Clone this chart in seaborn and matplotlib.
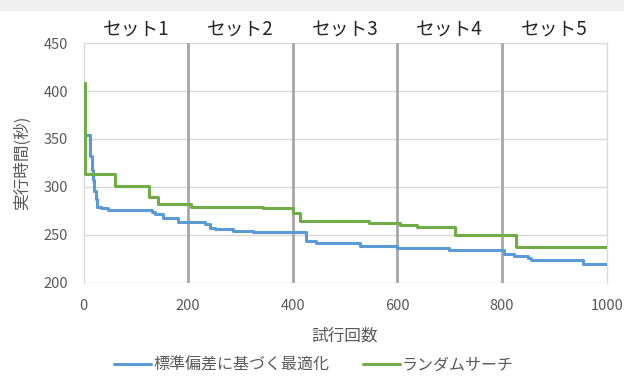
import numpy as np
import pandas as pd
import matplotlib
matplotlib.use("Agg")
import matplotlib.pyplot as plt
import seaborn as sns

# Best run time so far for each optimisation method (step points)
std_trials = [0, 12, 17, 19, 21, 23, 25, 33, 47, 130, 137, 152, 181, 232, 242, 252, 286,
              324, 426, 445, 529, 600, 698, 803, 822, 849, 855, 955, 1000]
std_times = [354, 332, 318, 307, 296, 287, 279, 277.5, 276, 274, 272, 267, 263.6, 261, 257.3,
             255.6, 254.2, 252.5, 243.4, 241, 238.3, 236, 234, 229.5, 227.7, 225.3, 223.5,
             219.8, 219.8]

rand_trials = [0, 3, 61, 125, 142, 205, 344, 401, 414, 545, 605, 637, 710, 826, 1000]
rand_times = [409, 313, 301, 289, 282.5, 278.5, 277.5, 273, 264, 262, 260, 258, 249.7,
              237.5, 237.5]

series_names = ["標準偏差に基づく最適化", "ランダムサーチ"]
set_labels = ["セット1", "セット2", "セット3", "セット4", "セット5"]
set_bounds = [200, 400, 600, 800]
x_ticks = [0, 200, 400, 600, 800, 1000]
y_ticks = [200, 250, 300, 350, 400, 450]

df = pd.concat([
    pd.DataFrame({"試行回数": std_trials, "実行時間": std_times, "手法": series_names[0]}),
    pd.DataFrame({"試行回数": rand_trials, "実行時間": rand_times, "手法": series_names[1]}),
], ignore_index=True)

sns.set_theme(style="white")
plt.rcParams["font.family"] = ["Noto Sans CJK JP", "DejaVu Sans"]

fig = plt.figure(figsize=(6.24, 3.76), dpi=100)
fig.patches.append(plt.Rectangle((0, 1 - 10 / 376), 1, 10 / 376, transform=fig.transFigure,
                                 color="#efefef", zorder=0))
ax = fig.add_axes([83.5 / 624, 1 - 282.5 / 376, (606.7 - 83.5) / 624, (282.5 - 43.3) / 376])

grid_c = "#d9d9d9"
for yv in y_ticks:
    ax.axhline(yv, color=grid_c, lw=1.0, zorder=1)
for xb in set_bounds:
    ax.axvline(xb, color="#a6a6a6", lw=2.0, zorder=2)

sns.lineplot(data=df, x="試行回数", y="実行時間", hue="手法", ax=ax,
             palette={series_names[0]: "#5b9bd5", series_names[1]: "#70ad47"},
             drawstyle="steps-post", linewidth=2.2, estimator=None, sort=False, zorder=3)

ax.set_xlim(0, 1000)
ax.set_ylim(200, 450)
ax.set_xticks(x_ticks)
ax.set_yticks(y_ticks)
ax.tick_params(axis="both", length=0, labelsize=10.5, labelcolor="#595959")
ax.tick_params(axis="x", pad=12)
ax.tick_params(axis="y", pad=11)
for side in ["left", "right"]:
    ax.spines[side].set_color(grid_c)
    ax.spines[side].set_linewidth(1.0)
for side in ["top", "bottom"]:
    ax.spines[side].set_visible(False)

ax.set_xlabel("試行回数", fontsize=12, color="#595959", labelpad=10)
ax.set_ylabel("実行時間(秒)", fontsize=12, color="#595959", labelpad=9)

for i, lab in enumerate(set_labels):
    ax.text(100 + 200 * i, 1.058, lab, transform=ax.get_xaxis_transform(),
            ha="center", va="center", fontsize=13.5, color="#262626")

handles, labels = ax.get_legend_handles_labels()
ax.legend_.remove()
fig.legend(handles, labels, loc="center", bbox_to_anchor=(314 / 624, 1 - 365 / 376), ncol=2,
           frameon=False, fontsize=11.5, handlelength=2.3, handletextpad=0.15,
           columnspacing=2.1, labelcolor="#595959")

fig.savefig("out.png", dpi=100)
